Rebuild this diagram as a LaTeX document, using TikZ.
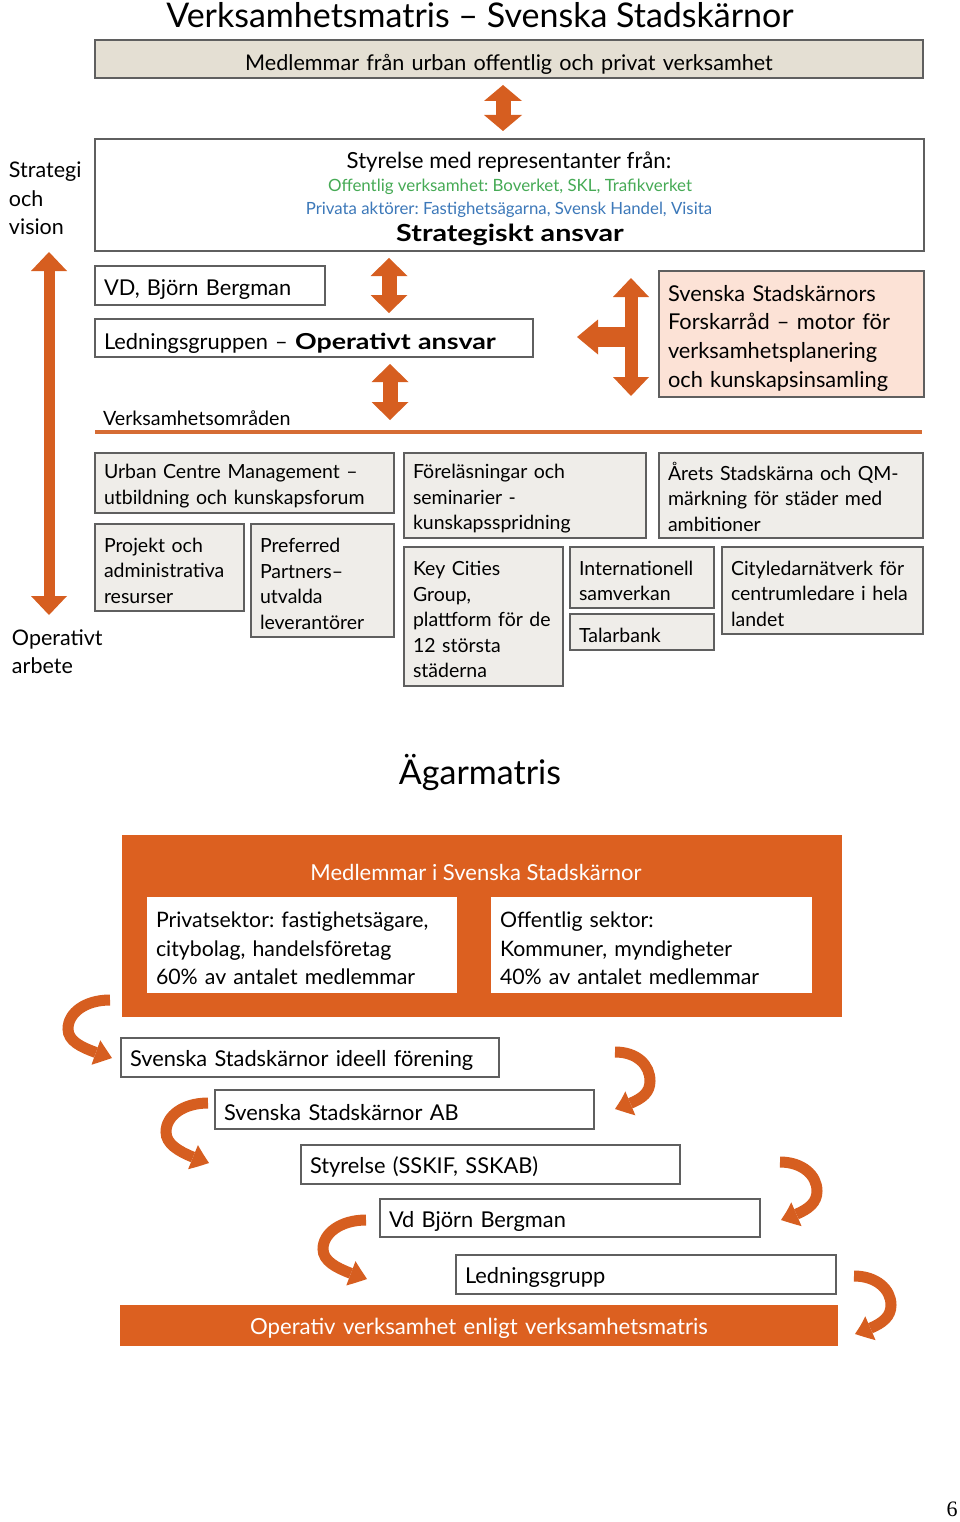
\documentclass[tikz,border=0pt]{standalone}
\usepackage{fontspec}
\setmainfont{Lato}
\newfontfamily\widelato[FakeStretch=1.22]{Lato}
\newfontfamily\serifnum{Liberation Serif}
\usetikzlibrary{arrows.meta,bending}
\definecolor{orgc}{RGB}{220,96,32}
\definecolor{arrc}{RGB}{214,94,32}
\definecolor{linec}{RGB}{214,108,52}
\definecolor{beigec}{RGB}{228,223,211}
\definecolor{gridc}{RGB}{239,237,233}
\definecolor{pinkc}{RGB}{252,226,214}
\definecolor{bordc}{RGB}{95,95,95}
\definecolor{greenc}{RGB}{70,170,85}
\definecolor{bluec}{RGB}{60,120,185}
\frenchspacing
\begin{document}
\frenchspacing
\begin{tikzpicture}[x=1pt,y=-1pt,
  every node/.style={inner sep=0pt, outer sep=0pt},
  vpush/.style={execute at begin node={\rule{0pt}{#1}}},
  box/.style={draw=bordc, line width=1.1pt, anchor=north west, inner xsep=9pt, align=left},
  gbox/.style={box, fill=gridc, vpush=20.8pt, font=\fontsize{19.5}{25.5}\selectfont},
  wbox/.style={box, fill=white, vpush=22.6pt, font=\fontsize{21.8}{25}\selectfont},
  fnt/.style={font=\fontsize{#1}{#1}\selectfont},
  dblarrow/.style={draw=arrc, line width=#1},
  tipA/.style={{Triangle[width=38pt,length=16pt,line width=0pt]}-{Triangle[width=38pt,length=16pt,line width=0pt]}},
  tipB/.style={{Triangle[width=37pt,length=18pt,line width=0pt]}-{Triangle[width=37pt,length=18pt,line width=0pt]}},
  carrow/.style={draw=arrc, line width=11pt, -{Triangle[width=26pt,length=17pt,line width=0pt,bend]}}
]
\useasboundingbox (0,0) rectangle (960,1522);

% ---------- Verksamhetsmatris ----------
\node[fnt=34] (title) at (480,15) {Verksamhetsmatris – Svenska Stadskärnor};

\node[box, fill=beigec, minimum width=828pt, minimum height=38pt, text width=810pt, align=center, vpush=26.4pt, fnt=21.6] (m1) at (95,40) {Medlemmar från urban offentlig och privat verksamhet};

\node[box, fill=white, minimum width=829pt, minimum height=112pt] (sty) at (95,139) {};
\node[fnt=22.2] (sty1) at (509,162) {Styrelse med representanter från:};
\node[fnt=16.9, text=greenc] (sty2) at (510,187) {Offentlig verksamhet: Boverket, SKL, Trafikverket};
\node[fnt=16.8, text=bluec] (sty3) at (509,210) {Privata aktörer: Fastighetsägarna, Svensk Handel, Visita};
\node[font=\widelato\bfseries\fontsize{23.5}{26}\selectfont] (sty4) at (510,235) {Strategiskt ansvar};

\coordinate (a1t) at (503,85);
\coordinate (a1b) at (503,131);
\draw[dblarrow=15pt, tipA] (a1t) -- (a1b);

\node[anchor=north west, align=left, font=\fontsize{21.5}{28.5}\selectfont] (strat) at (9,162) {Strategi\\och\\vision};
\node[anchor=north west, align=left, font=\fontsize{21.5}{28}\selectfont] (oper) at (12,630) {Operativt\\arbete};
\coordinate (lt) at (49,252);
\coordinate (lb) at (49,615);
\draw[dblarrow=11pt, {Triangle[width=36pt,length=19pt,line width=0pt]}-{Triangle[width=36pt,length=19pt,line width=0pt]}] (lt) -- (lb);

\node[wbox, minimum width=230pt, minimum height=39pt, text width=212pt, vpush=24.6pt] (vd) at (95,266) {VD, Björn Bergman};
\node[wbox, minimum width=438pt, minimum height=38pt, text width=420pt, vpush=26.6pt] (led) at (95,319) {Ledningsgruppen – {\widelato\bfseries\fontsize{22}{25}\selectfont Operativt ansvar}};

\coordinate (a2t) at (389,258);
\coordinate (a2b) at (389,313);
\draw[dblarrow=15pt, tipB] (a2t) -- (a2b);
\coordinate (a3t) at (390,364);
\coordinate (a3b) at (390,420);
\draw[dblarrow=15pt, tipB] (a3t) -- (a3b);

\node[box, fill=pinkc, minimum width=265pt, minimum height=126pt, text width=247pt, vpush=24.6pt, font=\fontsize{21.8}{28.7}\selectfont] (fr) at (659,271) {Svenska Stadskärnors\\Forskarråd – motor för\\verksamhetsplanering\\och kunskapsinsamling};

\coordinate (tt) at (631,278);
\coordinate (tb) at (631,396);
\coordinate (tm) at (637,337);
\coordinate (tl) at (577,337);
\draw[dblarrow=13pt, {Triangle[width=36pt,length=19pt,line width=0pt]}-{Triangle[width=36pt,length=19pt,line width=0pt]}] (tt) -- (tb);
\draw[dblarrow=20pt, -{Triangle[width=35pt,length=21pt,line width=0pt]}] (tm) -- (tl);

\node[anchor=west, fnt=19.7] (vo) at (103,418) {Verksamhetsområden};
\draw[line width=3.5pt, draw=linec] (95,432) -- (922,432);

\node[gbox, minimum width=299pt, minimum height=60pt, text width=281pt] (ucm) at (95,453) {Urban Centre Management –\\utbildning och kunskapsforum};
\node[gbox, minimum width=242pt, minimum height=85pt, text width=224pt] (fo) at (404,453) {Föreläsningar och\\seminarier -\\kunskapsspridning};
\node[gbox, vpush=0pt, minimum width=264pt, minimum height=85pt, text width=246pt] (ar) at (659,453) {Årets Stadskärna och QM-\\märkning för städer med\\ambitioner};
\node[gbox, minimum width=149pt, minimum height=87pt, text width=131pt] (pr) at (95,524) {Projekt och\\administrativa\\resurser};
\node[gbox, minimum width=143pt, minimum height=113pt, text width=125pt] (pp) at (251,524) {Preferred\\Partners–\\utvalda\\leverantörer};
\node[gbox, minimum width=159pt, minimum height=139pt, text width=141pt] (kc) at (404,547) {Key Cities\\Group,\\plattform för de\\12 största\\städerna};
\node[gbox, minimum width=144pt, minimum height=61pt, text width=126pt] (in) at (570,547) {Internationell\\samverkan};
\node[gbox, minimum width=144pt, minimum height=36pt, text width=126pt] (ta) at (570,614) {Talarbank};
\node[gbox, minimum width=201pt, minimum height=87pt, text width=183pt] (ci) at (722,547) {Cityledarnätverk för\\centrumledare i hela\\landet};

% ---------- Ägarmatris ----------
\node[fnt=34] (title2) at (480,772) {Ägarmatris};

\node[anchor=north west, fill=orgc, minimum width=720pt, minimum height=182pt] (org) at (122,835) {};
\node[fnt=22, text=white] (orgt) at (476,872) {Medlemmar i Svenska Stadskärnor};
\node[box, draw=none, fill=white, minimum width=310pt, minimum height=96pt, text width=292pt, vpush=22.2pt, font=\fontsize{21.3}{28.5}\selectfont] (ps) at (147,897) {Privatsektor: fastighetsägare,\\citybolag, handelsföretag\\60\% av antalet medlemmar};
\node[box, draw=none, fill=white, minimum width=321pt, minimum height=96pt, text width=303pt, vpush=22.2pt, font=\fontsize{21.3}{28.5}\selectfont] (os) at (491,897) {Offentlig sektor:\\Kommuner, myndigheter\\40\% av antalet medlemmar};

\node[wbox, minimum width=378pt, minimum height=39pt, text width=360pt] (c1) at (121,1038) {Svenska Stadskärnor ideell förening};
\node[wbox, minimum width=379pt, minimum height=39pt, text width=361pt] (c2) at (215,1090) {Svenska Stadskärnor AB};
\node[wbox, minimum width=379pt, minimum height=39pt, text width=361pt] (c3) at (301,1145) {Styrelse (SSKIF, SSKAB)};
\node[wbox, minimum width=380pt, minimum height=38pt, text width=362pt] (c4) at (380,1199) {Vd Björn Bergman};
\node[wbox, minimum width=380pt, minimum height=39pt, text width=362pt] (c5) at (456,1255) {Ledningsgrupp};
\node[anchor=north west, fill=orgc, minimum width=718pt, minimum height=41pt, text width=718pt, align=center, vpush=22.9pt, text=white, fnt=22.2] (bar) at (120,1305) {Operativ verksamhet enligt verksamhetsmatris};

% curved arrows
\coordinate (s1) at (110,1000); \coordinate (m1c) at (68,1029); \coordinate (e1) at (112,1058);
\draw[carrow] (s1) .. controls +(-25,0) and +(0,-16) .. (m1c) .. controls +(0,16) and +(-20,-7) .. (e1);
\coordinate (s2) at (615,1052); \coordinate (m2c) at (650,1081); \coordinate (e2) at (615,1109);
\draw[carrow] (s2) .. controls +(22,0) and +(0,-16) .. (m2c) .. controls +(0,16) and +(20,-7) .. (e2);
\coordinate (s3) at (208,1103); \coordinate (m3c) at (166,1132); \coordinate (e3) at (209,1163);
\draw[carrow] (s3) .. controls +(-25,0) and +(0,-16) .. (m3c) .. controls +(0,16) and +(-20,-7) .. (e3);
\coordinate (s4) at (780,1162); \coordinate (m4c) at (817,1191); \coordinate (e4) at (781,1220);
\draw[carrow] (s4) .. controls +(22,0) and +(0,-16) .. (m4c) .. controls +(0,16) and +(20,-7) .. (e4);
\coordinate (s5) at (366,1220); \coordinate (m5c) at (323,1249); \coordinate (e5) at (367,1279);
\draw[carrow] (s5) .. controls +(-25,0) and +(0,-16) .. (m5c) .. controls +(0,16) and +(-20,-7) .. (e5);
\coordinate (s6) at (854,1276); \coordinate (m6c) at (891,1305); \coordinate (e6) at (855,1334);
\draw[carrow] (s6) .. controls +(22,0) and +(0,-16) .. (m6c) .. controls +(0,16) and +(20,-7) .. (e6);

\node[font=\serifnum\fontsize{22}{26}\selectfont] (pg) at (952,1509) {6};
\end{tikzpicture}
\end{document}
